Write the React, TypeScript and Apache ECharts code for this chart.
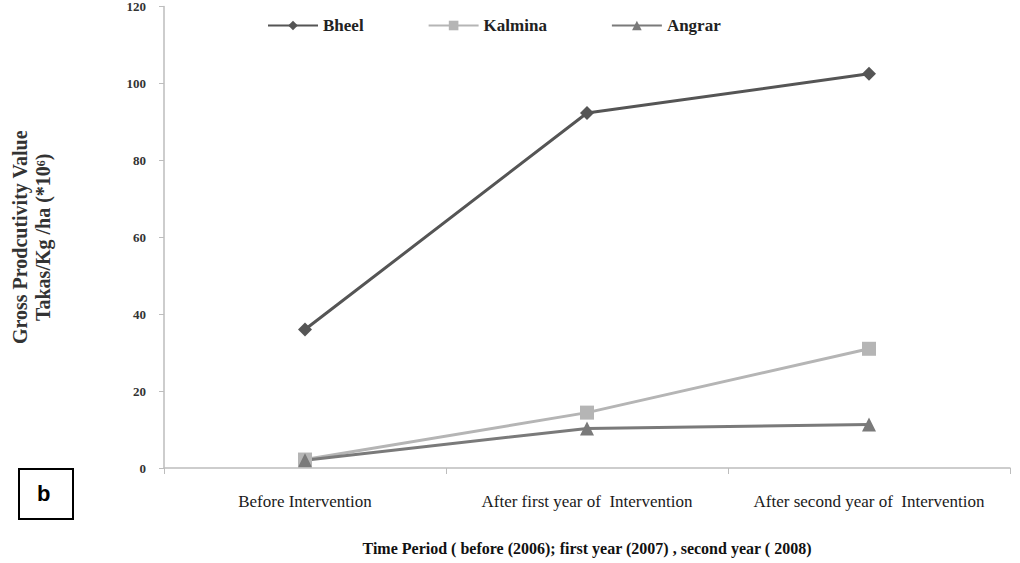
import React, { useEffect, useRef } from "react";
import * as echarts from "echarts";

const categories = [
  "Before Intervention",
  "After first year of  Intervention",
  "After second year of  Intervention",
];
const bheel = [36, 92.3, 102.5];
const kalmina = [2.2, 14.4, 31];
const angrar = [2, 10.3, 11.3];
const yTicks = [0, 20, 40, 60, 80, 100, 120];

export default function App() {
  const ref = useRef<HTMLDivElement>(null);
  useEffect(() => {
    const chart = echarts.init(ref.current!, null, { renderer: "svg" });
    const serif = "'Liberation Serif', 'DejaVu Serif', serif";
    chart.setOption({
      animation: false,
      backgroundColor: "#ffffff",
      legend: {
        top: 12,
        left: 262,
        itemGap: 64,
        itemWidth: 50,
        itemHeight: 12,
        textStyle: { fontFamily: serif, fontWeight: "bold", fontSize: 17, color: "#222" },
        data: ["Bheel", "Kalmina", "Angrar"],
      },
      grid: { left: 155, right: 10, top: 0, bottom: 95 },
      xAxis: {
        type: "category",
        data: categories,
        boundaryGap: true,
        axisLine: { lineStyle: { color: "#bdbdbd", width: 1.5 } },
        axisTick: { show: true, length: 6, lineStyle: { color: "#bdbdbd" } },
        axisLabel: {
          fontFamily: serif,
          fontSize: 17,
          color: "#1a1a1a",
          margin: 25,
          interval: 0,
        },
        name: "Time Period ( before (2006); first year (2007) , second year ( 2008)",
        nameLocation: "middle",
        nameGap: 72,
        nameTextStyle: { fontFamily: serif, fontWeight: "bold", fontSize: 16, color: "#111" },
      },
      yAxis: {
        type: "value",
        min: 0,
        max: 120,
        interval: 20,
        splitLine: { show: false },
        axisLine: { show: true, lineStyle: { color: "#bdbdbd", width: 1.5 } },
        axisTick: { show: true, length: 5, lineStyle: { color: "#bdbdbd" } },
        axisLabel: {
          fontFamily: serif,
          fontSize: 13,
          fontWeight: "bold",
          color: "#333",
          margin: 18,
          formatter: (v: number) => (yTicks.includes(v) ? String(v) : ""),
        },
        name: "Gross Prodcutivity Value\nTakas/Kg /ha (*10⁶)",
        nameLocation: "middle",
        nameGap: 110,
        nameRotate: 90,
        nameTextStyle: {
          fontFamily: serif,
          fontWeight: "bold",
          fontSize: 20,
          color: "#333",
          lineHeight: 23,
        },
      },
      series: [
        {
          name: "Bheel",
          type: "line",
          data: bheel,
          symbol: "diamond",
          symbolSize: 14,
          color: "#555555",
          lineStyle: { width: 3, color: "#555555" },
          itemStyle: { color: "#555555" },
        },
        {
          name: "Kalmina",
          type: "line",
          data: kalmina,
          symbol: "rect",
          symbolSize: 14,
          color: "#b5b5b5",
          lineStyle: { width: 3, color: "#b5b5b5" },
          itemStyle: { color: "#b5b5b5" },
        },
        {
          name: "Angrar",
          type: "line",
          data: angrar,
          symbol: "triangle",
          symbolSize: 14,
          color: "#7a7a7a",
          lineStyle: { width: 3, color: "#7a7a7a" },
          itemStyle: { color: "#7a7a7a" },
        },
      ],
      graphic: [
        {
          type: "rect",
          left: 18,
          top: 468,
          shape: { width: 54, height: 50 },
          style: { fill: "#fff", stroke: "#000", lineWidth: 2 },
        },
        {
          type: "text",
          left: 37,
          top: 482,
          style: {
            text: "b",
            fontFamily: "'Liberation Sans', Arial, sans-serif",
            fontWeight: "bold",
            fontSize: 22,
            fill: "#000",
          },
        },
      ],
    });
    return () => chart.dispose();
  }, []);
  return (
    <div
      ref={ref}
      style={{ position: "fixed", left: 0, top: 0, width: 1020, height: 563 }}
    />
  );
}
